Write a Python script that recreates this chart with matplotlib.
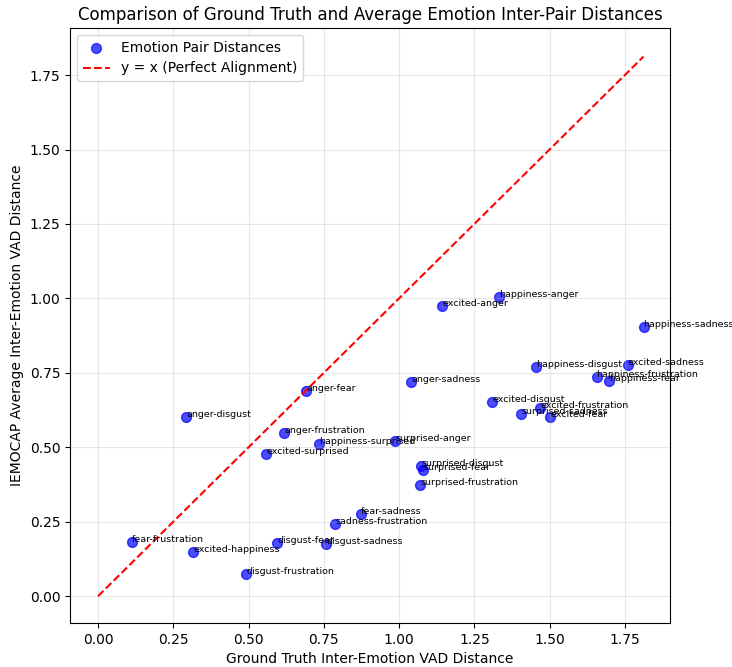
import matplotlib
matplotlib.use('Agg')
from matplotlib import pyplot as plt

# emotion pair labels and distances
pairs = ['happiness-anger', 'excited-anger', 'happiness-sadness', 'happiness-disgust',
         'excited-sadness', 'happiness-frustration', 'happiness-fear', 'anger-sadness',
         'excited-disgust', 'excited-frustration', 'surprised-sadness', 'excited-fear',
         'anger-fear', 'anger-disgust', 'anger-frustration', 'happiness-surprised',
         'surprised-anger', 'excited-surprised', 'surprised-disgust', 'surprised-fear',
         'surprised-frustration', 'fear-sadness', 'sadness-frustration', 'fear-frustration',
         'excited-happiness', 'disgust-fear', 'disgust-sadness', 'disgust-frustration']
gt_dist = [1.333, 1.144, 1.812, 1.456, 1.759, 1.656, 1.699, 1.041,
           1.310, 1.469, 1.406, 1.503, 0.691, 0.293, 0.618, 0.735,
           0.987, 0.559, 1.074, 1.080, 1.071, 0.874, 0.788, 0.113,
           0.316, 0.595, 0.758, 0.492]
avg_dist = [1.004, 0.974, 0.904, 0.769, 0.776, 0.736, 0.722, 0.719,
            0.652, 0.631, 0.611, 0.601, 0.689, 0.602, 0.548, 0.511,
            0.521, 0.477, 0.437, 0.423, 0.373, 0.275, 0.242, 0.181,
            0.148, 0.178, 0.175, 0.074]

fig = plt.figure(figsize=(7.32, 6.67), dpi=100)
ax = fig.add_axes([70 / 732, 44 / 667, 600 / 732, 595 / 667])

ax.scatter(gt_dist, avg_dist, color='blue', alpha=0.7, s=50, label='Emotion Pair Distances')
for i in range(len(pairs)):
    ax.text(gt_dist[i], avg_dist[i], pairs[i], fontsize=6.8)

m = max(gt_dist)
ax.plot([0, m], [0, m], 'r--', label='y = x (Perfect Alignment)')

ax.set_xlim(-0.093, 1.90)
ax.set_ylim(-0.09, 1.908)
ax.set_xlabel('Ground Truth Inter-Emotion VAD Distance')
ax.set_ylabel('IEMOCAP Average Inter-Emotion VAD Distance')
ax.set_title('Comparison of Ground Truth and Average Emotion Inter-Pair Distances')
ax.legend(loc='upper left')
ax.grid(True, alpha=0.3)

fig.savefig('out.png', dpi=100)
